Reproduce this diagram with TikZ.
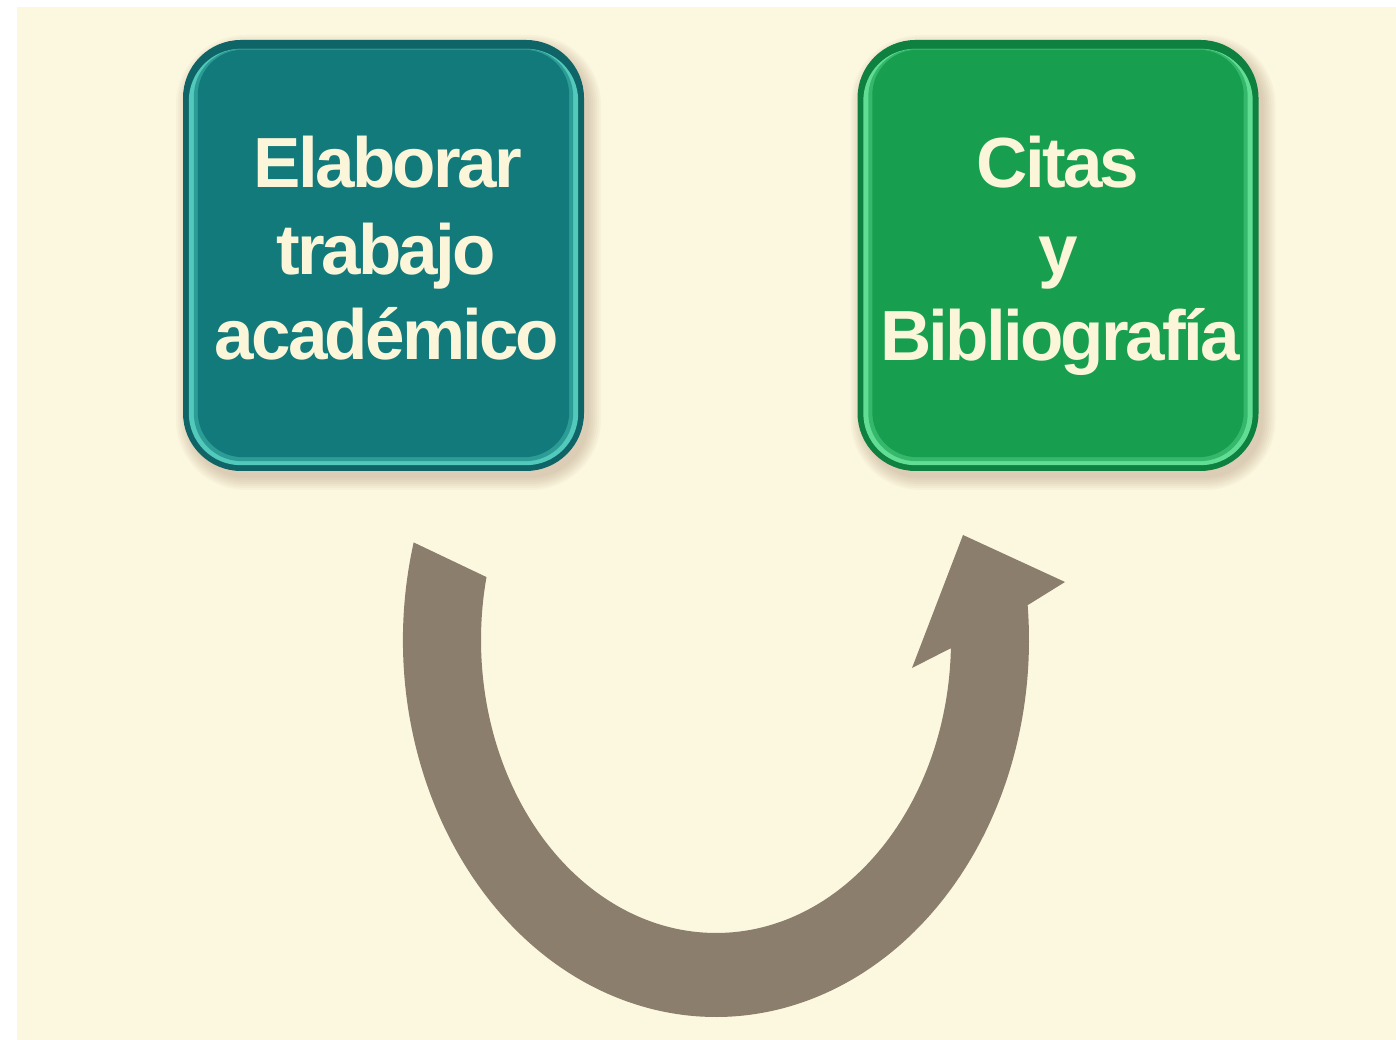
\documentclass[tikz,border=0pt]{standalone}
\usepackage{fontspec}
\setmainfont{Liberation Sans}
\definecolor{bgcream}{HTML}{FCF8E0}
\definecolor{txtcream}{HTML}{FBF6D9}
\definecolor{arrowc}{HTML}{8B7E6C}
\definecolor{shadowc}{HTML}{9A7A5E}
\definecolor{tealedge}{HTML}{0E6466}
\definecolor{tealring}{HTML}{52C9BA}
\definecolor{tealmid}{HTML}{2C9C96}
\definecolor{tealface}{HTML}{137A7B}
\definecolor{greenedge}{HTML}{0E8040}
\definecolor{greenring}{HTML}{62DE94}
\definecolor{greenmid}{HTML}{36B86C}
\definecolor{greenface}{HTML}{179F4F}
\tikzset{
  boxshape/.style={rectangle, rounded corners=58pt, minimum width=401pt, minimum height=431pt, inner sep=0pt},
  linetext/.style={anchor=base, inner sep=0pt, text=txtcream,
    font=\fontsize{71pt}{86pt}\selectfont\bfseries\addfontfeatures{LetterSpace=-4}}
}
\begin{document}
\begin{tikzpicture}[x=1pt,y=1pt]
\useasboundingbox (0,0) rectangle (1396,1040);
\fill[white] (0,0) rectangle (1396,1040);
\fill[bgcream] (17,0) rectangle (1396,1033);

% box positions
\coordinate (cA) at (383.5,784.5);
\coordinate (cB) at (1058,784.5);

% soft shadows
\foreach \c in {cA,cB}{
  \foreach \s in {0,2,...,12}{
    \fill[shadowc, opacity=0.05, rounded corners={58pt+\s pt}]
      ([shift={(-200.5-\s+5,-215.5-\s-7)}]\c) rectangle ([shift={(200.5+\s+5,215.5+\s-7)}]\c);
  }
}

% left box
\node[boxshape, fill=tealedge] (boxA) at (cA) {};
\fill[tealring, rounded corners=52pt] ([shift={(6,6)}]boxA.south west) rectangle ([shift={(-6,-9)}]boxA.north east);
\fill[tealmid, rounded corners=48pt] ([shift={(11,10)}]boxA.south west) rectangle ([shift={(-11,-9)}]boxA.north east);
\fill[tealface, rounded corners=45pt] ([shift={(15,14)}]boxA.south west) rectangle ([shift={(-15,-10)}]boxA.north east);

% right box
\node[boxshape, fill=greenedge] (boxB) at (cB) {};
\fill[greenring, rounded corners=52pt] ([shift={(6,6)}]boxB.south west) rectangle ([shift={(-6,-9)}]boxB.north east);
\fill[greenmid, rounded corners=48pt] ([shift={(11,10)}]boxB.south west) rectangle ([shift={(-11,-9)}]boxB.north east);
\fill[greenface, rounded corners=45pt] ([shift={(15,14)}]boxB.south west) rectangle ([shift={(-15,-10)}]boxB.north east);

% texts
\node[linetext] (a1) at (388,852) {Elaborar};
\node[linetext] (a2) at (386,765) {trabajo};
\node[linetext] (a3) at (387,680) {académico};
\node[linetext] (b1) at (1058,852) {Citas};
\node[linetext] (b2) at (1058,765) {y};
\node[linetext] (b3) at (1060,679) {Bibliografía};

% curved arrow
\coordinate (ac) at (716,400);
\coordinate (tailout) at ([shift={(716,400)}]165:313pt and 377pt);
\coordinate (tipR) at (1065,458);
\coordinate (tip) at (963,505);
\coordinate (tipL) at (912,372);
\coordinate (notchin) at ([shift={(716,400)}]-1.6:235pt and 293pt);
\fill[arrowc] (tailout)
  arc[start angle=165, end angle=365.3, x radius=313pt, y radius=377pt]
  -- (tipR) -- (tip) -- (tipL) -- (notchin)
  arc[start angle=358.4, end angle=167.6, x radius=235pt, y radius=293pt]
  -- cycle;
\end{tikzpicture}
\end{document}
